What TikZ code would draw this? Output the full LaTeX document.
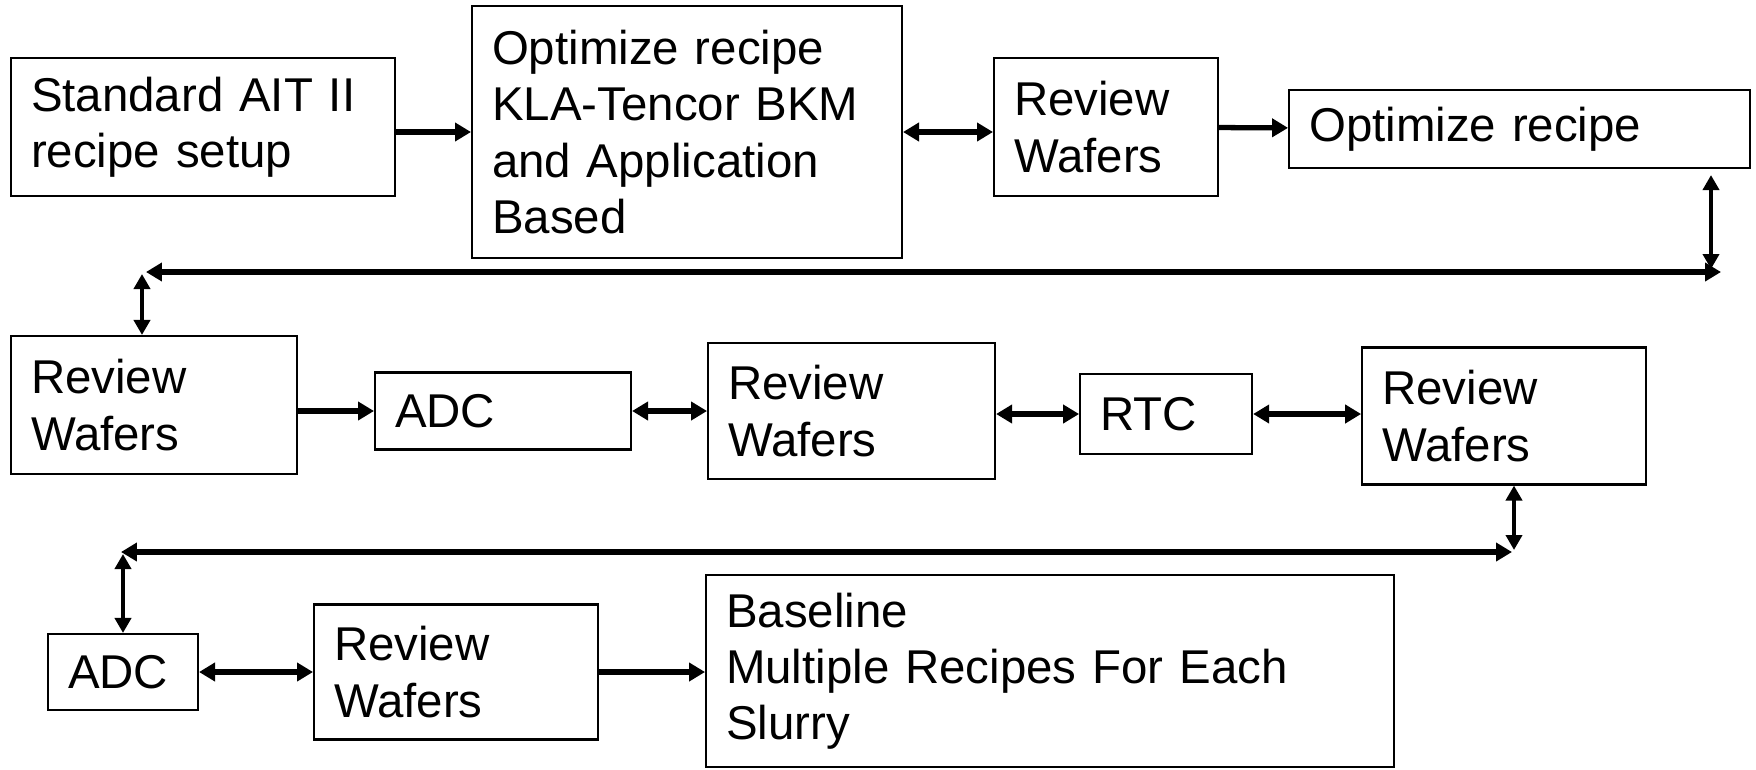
\documentclass[tikz,border=0pt]{standalone}
\usepackage{fontspec}
\setmainfont{Liberation Sans}
\usepackage{tikz}
\usetikzlibrary{arrows.meta, positioning}

\begin{document}
\begin{tikzpicture}[
    x=0.02cm, y=-0.02cm,
    box/.style={rectangle, draw=black, line width=1.2pt, inner xsep=0.4cm, inner ysep=0pt, align=left, font=\fontsize{27}{32}\selectfont},
    arr/.style={-{Triangle[length=0.32cm, width=0.36cm]}, line width=3pt},
    darr/.style={{Triangle[length=0.32cm, width=0.36cm]}-{Triangle[length=0.32cm, width=0.36cm]}, line width=3pt},
    varr/.style={{Triangle[length=0.3cm, width=0.32cm]}-{Triangle[length=0.3cm, width=0.32cm]}, line width=2.2pt}
]
\useasboundingbox (0,0) rectangle (1756,769);

\node[box, text width=6.88cm, minimum height=2.76cm] (setup) at (203,127) {Standard AIT II\\recipe setup};
\node[box, text width=7.8cm, minimum height=5.04cm, right=1.5cm of setup, yshift=-0.1cm] (bkm) {Optimize recipe\\KLA-Tencor BKM\\and Application\\Based};
\node[box, text width=3.68cm, minimum height=2.76cm, right=1.8cm of bkm, yshift=0.1cm] (review1) {Review\\Wafers};
\node[box, text width=8.42cm, minimum height=1.56cm, right=1.38cm of review1, yshift=-0.04cm] (optim) {Optimize recipe};

\node[box, text width=4.92cm, minimum height=2.76cm] (review2) at (154,405) {Review\\Wafers};
\node[box, text width=4.32cm, minimum height=1.54cm, right=1.52cm of review2, yshift=-0.12cm] (adc1) {ADC};
\node[box, text width=4.94cm, minimum height=2.72cm, right=1.5cm of adc1] (review3) {Review\\Wafers};
\node[box, text width=2.64cm, minimum height=1.6cm, right=1.66cm of review3, yshift=-0.06cm] (rtc) {RTC};
\node[box, text width=4.88cm, minimum height=2.74cm, right=2.16cm of rtc, yshift=-0.04cm] (review4) {Review\\Wafers};

\node[box, text width=2.2cm, minimum height=1.52cm] (adc2) at (123,672) {ADC};
\node[box, text width=4.88cm, minimum height=2.7cm, right=2.28cm of adc2] (review5) {Review\\Wafers};
\node[box, text width=12.96cm, minimum height=3.84cm, right=2.12cm of review5, yshift=0.02cm] (baseline) {Baseline\\Multiple Recipes For Each\\Slurry};

\coordinate (busAl) at (146,272);
\coordinate (busAr) at (1721,272);
\coordinate (dropA) at (1711,272);
\coordinate (riseA) at (142,272);
\coordinate (busBl) at (121,552);
\coordinate (busBr) at (1512,552);
\coordinate (dropB) at (1514,552);
\coordinate (riseB) at (123,552);

\draw[arr] (setup.east |- bkm.west) -- (bkm.west);
\draw[darr] (bkm.east) -- (bkm.east -| review1.west);
\draw[arr] (review1) -- (optim);
\draw[varr, shorten <=0.12cm, shorten >=0.06cm] (dropA |- optim.south) -- (dropA);
\draw[darr] (busAl) -- (busAr);
\draw[varr, shorten <=0.04cm] (riseA) -- (riseA |- review2.north);

\draw[arr] (review2.east |- adc1.west) -- (adc1.west);
\draw[darr] (adc1.east) -- (adc1.east -| review3.west);
\draw[darr] (review3.east |- rtc.west) -- (rtc.west);
\draw[darr] (rtc.east) -- (rtc.east -| review4.west);
\draw[varr, shorten >=0.04cm] (dropB |- review4.south) -- (dropB);
\draw[darr] (busBl) -- (busBr);
\draw[varr, shorten <=0.04cm] (riseB) -- (adc2.north);

\draw[darr] (adc2.east |- review5.west) -- (review5.west);
\draw[arr] (review5.east) -- (review5.east -| baseline.west);

\end{tikzpicture}
\end{document}
